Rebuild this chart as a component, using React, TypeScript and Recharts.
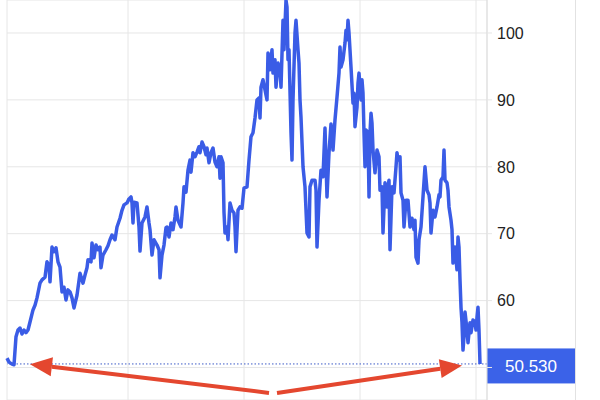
import React from 'react';
import {
  LineChart,
  Line,
  XAxis,
  YAxis,
  CartesianGrid,
  ReferenceLine,
} from 'recharts';

// trading-day index for each sampled price
const days = [
  0, 2, 5, 7, 9, 11, 13, 15, 17, 19, 21, 23, 26, 28, 30, 33, 35, 38, 40, 42, 43, 45, 47, 49, 51, 53,
  55, 57, 59, 61, 63, 65, 67, 70, 73, 76, 78, 80, 81, 84, 85, 87, 89, 91, 93, 94, 96, 99, 101, 103,
  105, 108, 110, 113, 115, 117, 120, 122, 124, 125, 126, 127, 130, 132, 133, 135, 138, 140, 142, 143,
  145, 147, 148, 150, 152, 153, 155, 157, 159, 160, 162, 164, 166, 168, 169, 171, 174, 176, 177, 179,
  181, 183, 184, 186, 188, 190, 192, 193, 195, 197, 199, 200, 202, 204, 206, 208, 210, 212, 213, 214,
  216, 217, 218, 220, 221, 223, 225, 227, 228, 229, 231, 233, 235, 237, 240, 242, 244, 246, 248, 250,
  252, 253, 254, 256, 258, 260, 261, 263, 265, 266, 268, 269, 271, 273, 274, 276, 277, 279, 280, 281,
  282, 284, 285, 286, 288, 289, 291, 292, 293, 294, 296, 298, 300, 302, 303, 305, 308, 309, 310, 312,
  314, 316, 318, 320, 322, 324, 326, 328, 330, 332, 333, 334, 336, 338, 339, 340, 341, 342, 344, 346,
  347, 348, 350, 351, 352, 354, 355, 356, 357, 358, 359, 361, 362, 363, 364, 365, 366, 368, 370, 372,
  373, 375, 376, 378, 380, 381, 382, 383, 385, 387, 389, 390, 391, 393, 394, 396, 397, 399, 401, 403,
  405, 407, 408, 409, 411, 412, 414, 416, 418, 420, 422, 423, 424, 426, 428, 430, 432, 433, 434, 436,
  437, 438, 440, 441, 442, 444, 445, 446, 448, 450, 451, 452, 453, 454, 455, 456, 457, 458, 460, 461,
  463, 464, 466, 468, 469, 470, 471, 472, 473,
];

const prices = [
  51.4, 50.8, 50.5, 50.4, 54.6, 55.6, 55.9, 55.0, 55.6, 55.2, 55.6, 56.8, 58.6, 59.3, 60.4, 62.6, 63.1,
  63.5, 65.8, 65.3, 62.8, 68.0, 67.3, 67.9, 65.8, 65.0, 61.3, 62.0, 60.1, 61.6, 61.3, 60.4, 58.9, 60.8,
  64.1, 62.6, 63.8, 64.9, 66.1, 65.8, 68.6, 66.4, 68.3, 67.6, 68.0, 64.9, 66.8, 67.6, 68.2, 69.1, 69.8,
  69.1, 71.0, 72.3, 73.5, 74.3, 74.6, 75.2, 75.5, 74.6, 71.6, 74.7, 74.6, 71.0, 67.4, 71.6, 72.5, 74.0,
  71.6, 70.6, 66.8, 69.1, 68.8, 68.3, 67.6, 63.4, 66.8, 68.3, 70.9, 71.0, 69.5, 71.6, 70.6, 72.5, 74.0,
  72.0, 71.0, 74.6, 77.0, 76.2, 79.5, 81.0, 79.2, 82.1, 81.5, 82.2, 83.0, 82.1, 83.7, 83.0, 81.8, 82.8,
  80.6, 82.1, 82.8, 80.7, 80.0, 81.5, 78.3, 81.5, 80.6, 73.2, 70.1, 71.0, 69.1, 74.6, 73.5, 73.1, 71.0,
  67.3, 73.5, 74.0, 73.8, 76.8, 77.0, 81.0, 84.5, 85.1, 87.3, 90.0, 90.3, 87.3, 91.9, 93.0, 91.5, 90.0,
  97.0, 94.5, 97.5, 94.0, 96.0, 91.9, 95.5, 94.5, 91.9, 101.9, 97.5, 104.9, 103.9, 96.0, 97.5, 85.1,
  81.0, 90.0, 100.0, 101.9, 97.5, 95.5, 90.0, 87.4, 80.0, 77.0, 70.1, 69.5, 77.0, 78.0, 78.0, 76.5,
  68.0, 75.0, 79.5, 78.5, 85.8, 75.5, 82.1, 86.4, 82.5, 87.0, 90.4, 94.0, 97.9, 94.9, 96.0, 98.5,
  100.4, 99.0, 101.9, 100.0, 94.9, 89.5, 91.0, 86.0, 88.9, 92.5, 94.0, 90.0, 93.0, 91.0, 85.1, 80.0,
  85.5, 85.1, 75.5, 85.1, 88.0, 86.5, 82.5, 79.1, 82.5, 81.5, 76.5, 77.0, 70.1, 77.6, 74.0, 77.0, 78.0,
  67.6, 77.0, 76.1, 80.0, 82.1, 81.0, 81.5, 76.1, 75.0, 71.0, 75.0, 75.0, 71.0, 72.3, 70.6, 72.0,
  66.5, 65.6, 69.1, 71.0, 75.5, 80.0, 76.5, 75.8, 74.6, 70.1, 73.5, 72.5, 74.0, 75.8, 75.5, 78.0,
  78.5, 82.5, 78.0, 77.6, 76.5, 74.0, 72.0, 70.6, 65.6, 68.0, 64.6, 69.5, 68.0, 63.1, 59.0, 56.7,
  52.6, 54.6, 58.3, 55.6, 53.7, 56.7, 55.2, 57.1, 56.8, 55.6, 57.5, 59.0, 55.6, 50.53,
];

const lastPrice = 50.53;
const priceTicks = [50, 60, 70, 80, 90, 100];
const dayTicks = [0, 121, 237, 353, 469];

// annotation arrows: [tail day, tail price, tip day, tip price]
const arrows = [
  [262, 46.2, 23, 50.5],
  [270, 46.2, 455, 50.3],
];

const data = days.map((d, i) => ({ day: d, price: prices[i] }));

const Arrow = (props: any) => {
  const { x1, y1, x2, y2 } = props;
  const ang = Math.atan2(y2 - y1, x2 - x1);
  const len = 22;
  const half = 9.5;
  const bx = x2 - len * Math.cos(ang);
  const by = y2 - len * Math.sin(ang);
  const px = -Math.sin(ang) * half;
  const py = Math.cos(ang) * half;
  return (
    <g>
      <line x1={x1} y1={y1} x2={bx} y2={by} stroke="#e4472f" strokeWidth={4} />
      <polygon
        points={`${x2},${y2} ${bx + px},${by + py} ${bx - px},${by - py}`}
        fill="#e4472f"
      />
    </g>
  );
};

const PriceTag = (props: any) => {
  const { viewBox } = props;
  const x = viewBox.x + viewBox.width;
  const cy = viewBox.y + 2;
  return (
    <g>
      <rect x={x} y={cy - 17.5} width={88} height={35} fill="#3b62e8" />
      <text
        x={x + 44}
        y={cy}
        dy="0.36em"
        textAnchor="middle"
        fill="#ffffff"
        fontSize={17}
        fontFamily="'Liberation Sans', Arial, sans-serif"
      >
        {lastPrice.toFixed(3)}
      </text>
    </g>
  );
};

const PriceTick = (props: any) => {
  const { x, y, payload } = props;
  if (payload.value === 50) return <g />;
  return (
    <text
      x={x}
      y={y}
      dy="0.36em"
      textAnchor="start"
      fill="#222222"
      fontSize={16}
      fontFamily="'Liberation Sans', Arial, sans-serif"
    >
      {payload.value}
    </text>
  );
};

export default function App() {
  return (
    <div
      style={{
        position: 'absolute',
        left: 0,
        top: 0,
        width: 576,
        height: 400,
        borderRight: '1px solid #e2e2e2',
        boxSizing: 'border-box',
        background: '#fff',
      }}
    >
      <LineChart
        width={575}
        height={400}
        data={data}
        margin={{ top: 0, right: 0, bottom: 0, left: 7 }}
      >
        <CartesianGrid stroke="#e6e6e6" />
        <XAxis dataKey="day" type="number" domain={[0, 480]} ticks={dayTicks} hide />
        <YAxis
          orientation="right"
          width={88}
          domain={[45.14, 104.93]}
          ticks={priceTicks}
          allowDataOverflow
          axisLine={{ stroke: '#dddddd' }}
          tickLine={{ stroke: '#e6e6e6' }}
          tickSize={5}
          tickMargin={5}
          tick={<PriceTick />}
        />
        <ReferenceLine
          y={lastPrice}
          stroke="#3d5cc8"
          strokeWidth={1}
          strokeDasharray="1.5 2"
          label={<PriceTag />}
        />
        <Line
          type="linear"
          dataKey="price"
          stroke="#3a5ce6"
          strokeWidth={3.5}
          dot={false}
          strokeLinejoin="round"
          isAnimationActive={false}
        />
        {arrows.map((a, i) => (
          <ReferenceLine
            key={i}
            segment={[
              { x: a[0], y: a[1] },
              { x: a[2], y: a[3] },
            ]}
            ifOverflow="visible"
            shape={<Arrow />}
          />
        ))}
      </LineChart>
    </div>
  );
}
